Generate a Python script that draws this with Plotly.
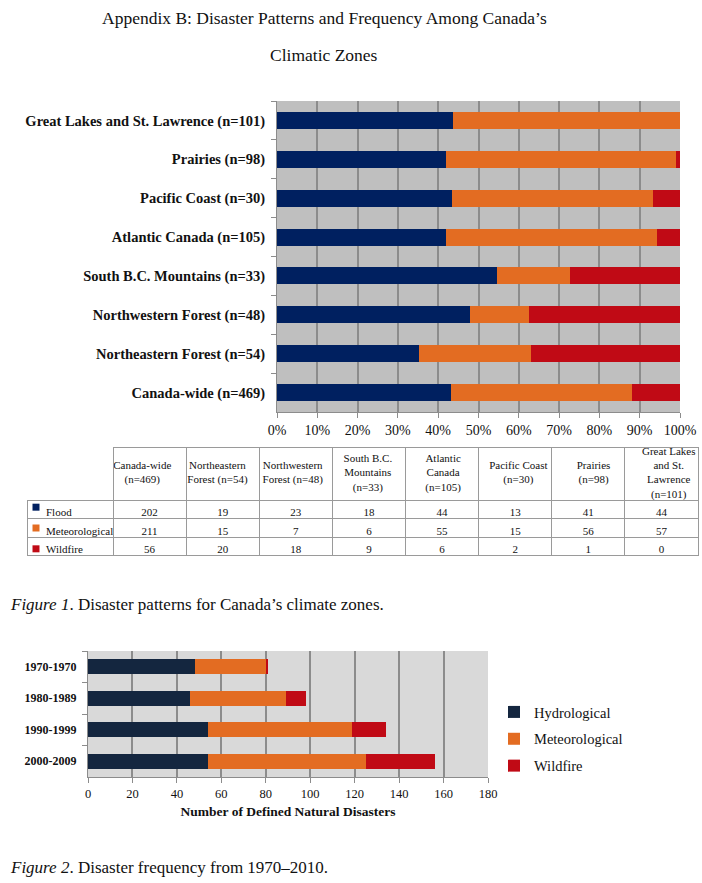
import plotly.graph_objects as go

# ---------------- Data ----------------
zones = ["Canada-wide", "Northeastern Forest", "Northwestern Forest", "South B.C. Mountains",
         "Atlantic Canada", "Pacific Coast", "Prairies", "Great Lakes and St. Lawrence"]
table_headers = ["Canada-wide<br>(n=469)", "Northeastern<br>Forest (n=54)", "Northwestern<br>Forest (n=48)",
                 "South B.C.<br>Mountains<br>(n=33)", "Atlantic<br>Canada<br>(n=105)", "Pacific Coast<br>(n=30)",
                 "Prairies<br>(n=98)", "Great Lakes<br>and St.<br>Lawrence<br>(n=101)"]
types = ["Flood", "Meteorological", "Wildfire"]
flood = [202, 19, 23, 18, 44, 13, 41, 44]
meteorological = [211, 15, 7, 6, 55, 15, 56, 57]
wildfire = [56, 20, 18, 9, 6, 2, 1, 0]

decades = ["1970-1970", "1980-1989", "1990-1999", "2000-2009"]
hydrological2 = [48, 46, 54, 54]
meteorological2 = [32, 43, 65, 71]
wildfire2 = [1, 9, 15, 31]

pct_ticks = list(range(0, 101, 10))
count_ticks = list(range(0, 181, 20))

# ---------------- Styles ----------------
SERIF = "Liberation Serif"
C_FLOOD = "#002060"
C_MET = "#E36C22"
C_WILD = "#C00A15"
C_HYDRO = "#14263F"
W, H = 702, 883


def px_x(p):
    return p / W


def px_y(p):
    return (H - p) / H


totals = [f + m + w for f, m, w in zip(flood, meteorological, wildfire)]
labels = [f"{z} (n={n})" for z, n in zip(zones, totals)]
pf = [100 * v / t for v, t in zip(flood, totals)]
pm = [100 * v / t for v, t in zip(meteorological, totals)]
pw = [100 * v / t for v, t in zip(wildfire, totals)]

fig = go.Figure()

# ---------------- Figure 1: stacked 100% bars ----------------
for vals, col, name in [(pf, C_FLOOD, "Flood"), (pm, C_MET, "Meteorological"), (pw, C_WILD, "Wildfire")]:
    fig.add_trace(go.Bar(x=vals, y=labels, orientation="h", marker=dict(color=col, line=dict(width=0)),
                         width=0.44, name=name, showlegend=False, xaxis="x", yaxis="y"))

# ---------------- Table ----------------
NB = "\u00a0"
TX0, TX1 = 27, 698        # table left edge / right edge (px)
LABW = 86
COLW = (TX1 - TX0 - LABW) / 8
columns = [[NB * 4 + t for t in types]] + [[f, m, w] for f, m, w in zip(flood, meteorological, wildfire)]
LINE = "#9a9a9a"
TRANSP = "rgba(0,0,0,0)"
fig.add_trace(go.Table(
    domain=dict(x=[px_x(TX0), px_x(TX1)], y=[px_y(562), px_y(447)]),
    columnwidth=[LABW] + [COLW] * 8,
    header=dict(values=[NB] * 9, fill_color=TRANSP,
                line=dict(color=[TRANSP] + [LINE] * 8, width=1),
                font=dict(family=SERIF, size=11, color="#111"), align="center", height=53),
    cells=dict(values=columns, fill_color=TRANSP, line=dict(color=LINE, width=1),
               font=dict(family=SERIF, size=11, color="#111"), align=["left"] + ["center"] * 8,
               height=18.5),
))

# header texts, vertically centred in the header cells
fig.add_trace(go.Scatter(x=zones, y=["h"] * len(zones), text=table_headers, mode="text",
                         textposition="middle center", xaxis="x4", yaxis="y4",
                         textfont=dict(family=SERIF, size=11, color="#111"),
                         showlegend=False, hoverinfo="skip"))

# coloured squares inside the table's first column
fig.add_trace(go.Scatter(x=[0, 0, 0], y=types, mode="markers", xaxis="x3", yaxis="y3",
                         marker=dict(symbol="square", size=7, color=[C_FLOOD, C_MET, C_WILD]),
                         showlegend=False, hoverinfo="skip"))

# ---------------- Figure 2: stacked counts ----------------
for vals, col, name in [(hydrological2, C_HYDRO, "Hydrological"), (meteorological2, C_MET, "Meteorological"),
                        (wildfire2, C_WILD, "Wildfire")]:
    fig.add_trace(go.Bar(x=vals, y=decades, orientation="h", marker=dict(color=col, line=dict(width=0)),
                         width=0.48, name=name, legendgroup=name, showlegend=True, xaxis="x2", yaxis="y2"))

GRID = "#8c8c8c"
TXT = "#111"
fig.update_layout(
    width=W, height=H, margin=dict(l=0, r=0, t=0, b=0, autoexpand=False),
    paper_bgcolor="white", plot_bgcolor="rgba(0,0,0,0)", barmode="stack",
    font=dict(family=SERIF, color=TXT),
    xaxis=dict(domain=[px_x(277), px_x(680)], anchor="y", range=[0, 100], tickvals=pct_ticks,
               ticktext=[f"{t}%" for t in pct_ticks], showgrid=True, gridcolor=GRID, gridwidth=1.5,
               showline=True, linecolor=GRID, ticks="outside", ticklen=5, tickcolor=GRID, automargin=False,
               tickfont=dict(family=SERIF, size=14, color=TXT), zeroline=False, fixedrange=True),
    yaxis=dict(domain=[px_y(412), px_y(101)], anchor="x", type="category", tickson="boundaries",
               ticks="outside", ticklen=5, tickcolor=GRID, showline=True, linecolor=GRID, showgrid=False,
               automargin=False, tickfont=dict(family=SERIF, size=14.5, color=TXT, weight="bold"),
               ticklabelstandoff=8),
    xaxis2=dict(domain=[px_x(88), px_x(488)], anchor="y2", range=[0, 180], tickvals=count_ticks,
                showgrid=True, gridcolor=GRID, gridwidth=1.5, showline=True, linecolor=GRID,
                ticks="outside", ticklen=5, tickcolor=GRID, zeroline=False, automargin=False,
                tickfont=dict(family=SERIF, size=12.5, color=TXT),
                title=dict(text="<b>Number of Defined Natural Disasters</b>",
                           font=dict(family=SERIF, size=13.5, color=TXT), standoff=6)),
    yaxis2=dict(domain=[px_y(777), px_y(651)], anchor="x2", type="category", autorange="reversed",
                tickson="boundaries", ticks="outside", ticklen=5, tickcolor=GRID, showline=True,
                linecolor=GRID, showgrid=False, automargin=False,
                tickfont=dict(family=SERIF, size=12, color=TXT, weight="bold"), ticklabelstandoff=8),
    xaxis3=dict(domain=[px_x(TX0 + 4), px_x(TX0 + 14)], anchor="y3", range=[-1, 1], visible=False,
                fixedrange=True),
    yaxis3=dict(domain=[px_y(556), px_y(500)], anchor="x3", type="category", autorange="reversed",
                visible=False, fixedrange=True),
    xaxis4=dict(domain=[px_x(TX0 + LABW), px_x(TX1)], anchor="y4", type="category", visible=False,
                fixedrange=True),
    yaxis4=dict(domain=[px_y(500), px_y(447)], anchor="x4", type="category", visible=False,
                fixedrange=True),
    legend=dict(x=px_x(494), y=px_y(696), xanchor="left", yanchor="top", traceorder="grouped",
                tracegroupgap=5, font=dict(family=SERIF, size=14.5, color=TXT),
                bgcolor="rgba(0,0,0,0)", itemwidth=30),
    annotations=[
        dict(text="Appendix B: Disaster Patterns and Frequency Among Canada’s", x=px_x(324), y=px_y(18),
             xref="paper", yref="paper", showarrow=False, xanchor="center", yanchor="middle",
             font=dict(family=SERIF, size=17.5, color=TXT)),
        dict(text="Climatic Zones", x=px_x(324), y=px_y(55), xref="paper", yref="paper", showarrow=False,
             xanchor="center", yanchor="middle", font=dict(family=SERIF, size=17.5, color=TXT)),
        dict(text="<i>Figure 1</i>. Disaster patterns for Canada’s climate zones.", x=px_x(8), y=px_y(605),
             xref="paper", yref="paper", showarrow=False, xanchor="left", yanchor="middle",
             font=dict(family=SERIF, size=17, color=TXT)),
        dict(text="<i>Figure 2</i>. Disaster frequency from 1970–2010.", x=px_x(8), y=px_y(867),
             xref="paper", yref="paper", showarrow=False, xanchor="left", yanchor="middle",
             font=dict(family=SERIF, size=17, color=TXT)),
    ],
)
fig.add_shape(type="rect", xref="x domain", yref="y domain", x0=0, x1=1, y0=0, y1=1,
              fillcolor="#BFBFBF", line=dict(width=0), layer="below")
fig.add_shape(type="rect", xref="x2 domain", yref="y2 domain", x0=0, x1=1, y0=0, y1=1,
              fillcolor="#D9D9D9", line=dict(width=0), layer="below")

fig.write_html("out.html", config={"displayModeBar": False},
               post_script="document.body.style.margin='0';")
